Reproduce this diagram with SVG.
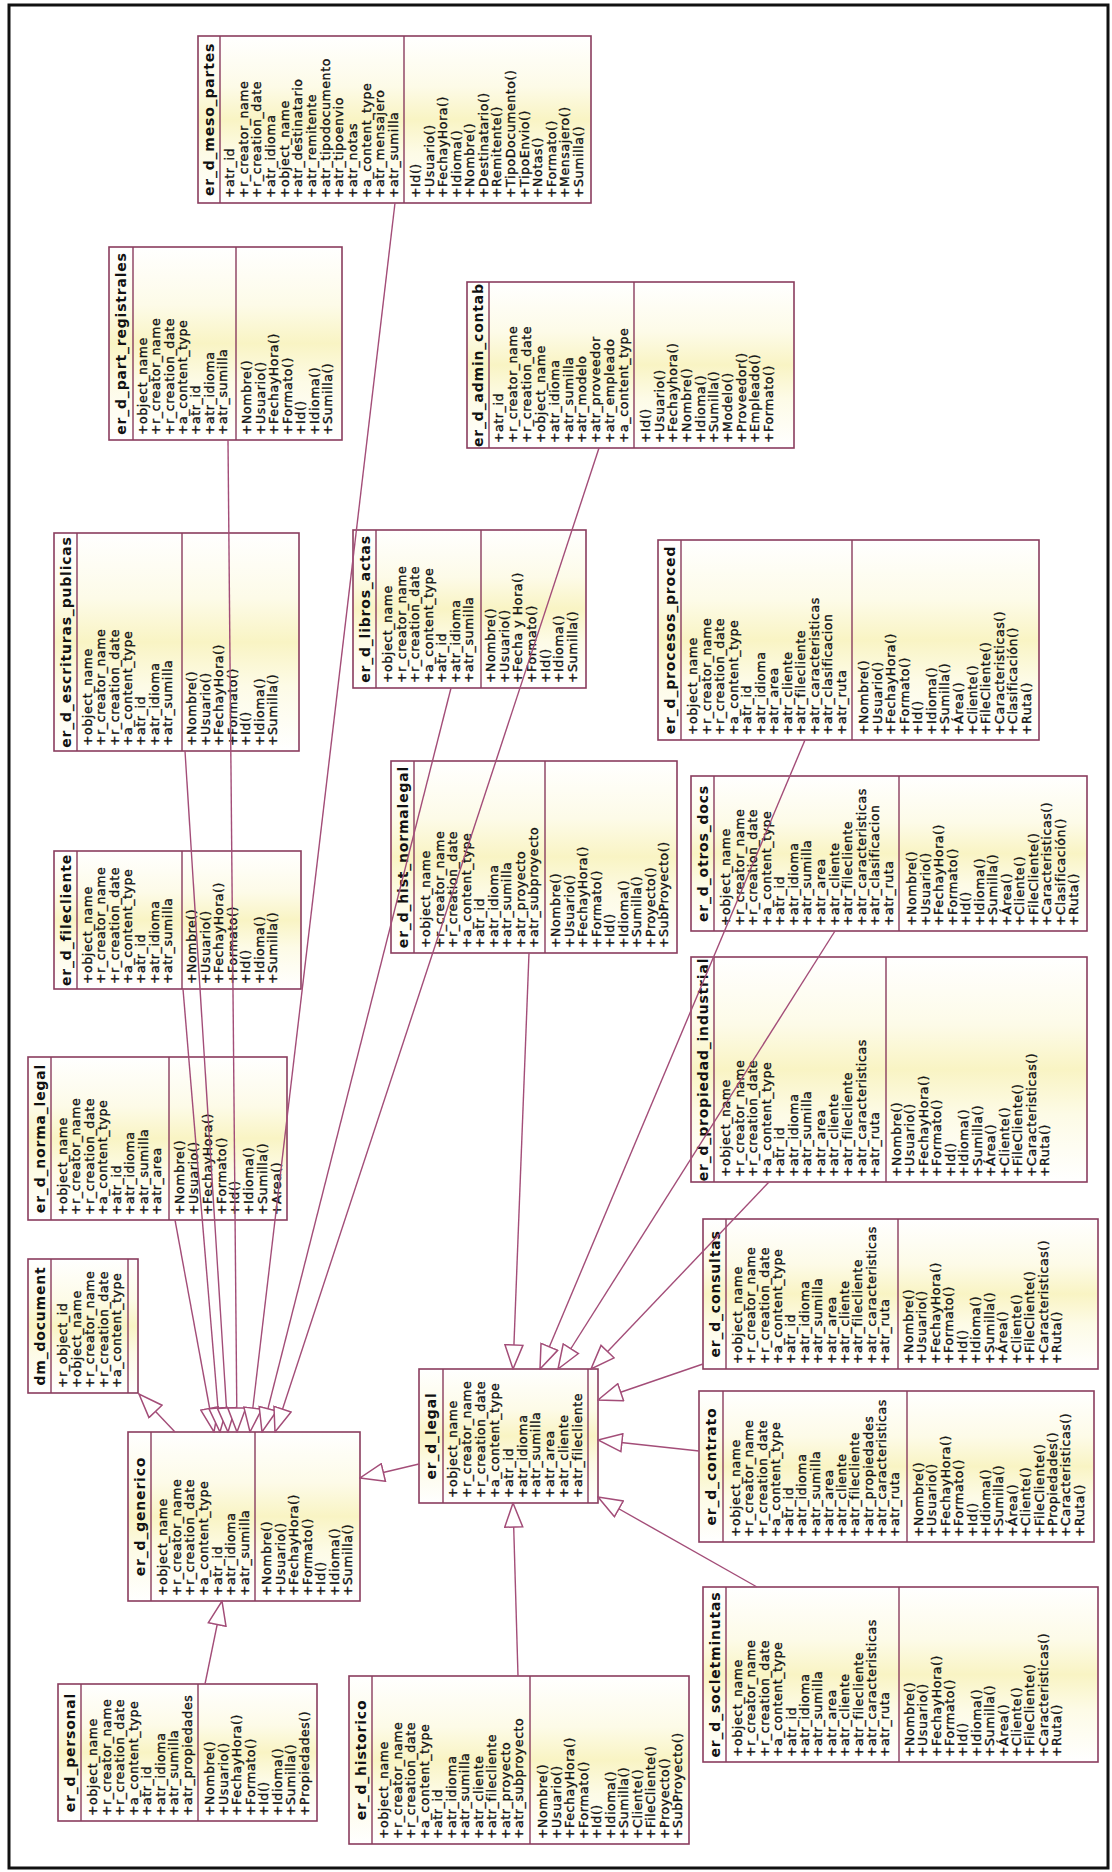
<svg xmlns="http://www.w3.org/2000/svg" width="1112" height="1872" viewBox="0 0 1112 1872">
<defs>
<linearGradient id="cls" x1="0" y1="0" x2="1" y2="0">
<stop offset="0" stop-color="#ffffff"/>
<stop offset="0.3" stop-color="#fdfbe6"/>
<stop offset="0.5" stop-color="#f9f4c4"/>
<stop offset="0.7" stop-color="#fdfbe8"/>
<stop offset="1" stop-color="#ffffff"/>
</linearGradient>
<marker id="gen" viewBox="0 0 26 20" refX="25" refY="10" markerWidth="26" markerHeight="20" markerUnits="userSpaceOnUse" orient="auto">
<path d="M1 1 L25 10 L1 19 Z" fill="#ffffff" stroke="#a34d78" stroke-width="1.5"/>
</marker>
<style>
.box{fill:url(#cls);stroke:#8a3d5e;stroke-width:1.6}
.sep{fill:none;stroke:#8a3d5e;stroke-width:1.4}
.t{font-family:"DejaVu Sans","Liberation Sans",sans-serif;font-size:12.5px;letter-spacing:0.6px;fill:#111;stroke:#111;stroke-width:0.35}
.h{font-family:"DejaVu Sans","Liberation Sans",sans-serif;font-size:14px;font-weight:bold;letter-spacing:0.8px;text-anchor:middle;fill:#111}
.edge{fill:none;stroke:#a34d78;stroke-width:1.4;marker-end:url(#gen)}
</style>
</defs>
<rect width="1112" height="1872" fill="#ffffff"/>
<rect x="9" y="5" width="1099" height="1863" fill="none" stroke="#111" stroke-width="3"/>

<!-- classes are drawn upright in local coordinates, then turned a quarter turn -->
<g id="er_d_meso_partes" transform="translate(198 203) rotate(-90)">
<rect class="box" width="167" height="393"/>
<path class="sep" d="M0 22H167M0 206H167"/>
<text class="h" x="83.5" y="16">er_d_meso_partes</text>
<text class="t" y="36"><tspan x="5">+atr_id</tspan><tspan x="5" dy="13.67">+r_creator_name</tspan><tspan x="5" dy="13.67">+r_creation_date</tspan><tspan x="5" dy="13.67">+atr_idioma</tspan><tspan x="5" dy="13.67">+object_name</tspan><tspan x="5" dy="13.67">+atr_destinatario</tspan><tspan x="5" dy="13.67">+atr_remitente</tspan><tspan x="5" dy="13.67">+atr_tipodocumento</tspan><tspan x="5" dy="13.67">+atr_tipoenvio</tspan><tspan x="5" dy="13.67">+atr_notas</tspan><tspan x="5" dy="13.67">+a_content_type</tspan><tspan x="5" dy="13.67">+atr_mensajero</tspan><tspan x="5" dy="13.67">+atr_sumilla</tspan></text>
<text class="t" y="222"><tspan x="5">+Id()</tspan><tspan x="5" dy="13.58">+Usuario()</tspan><tspan x="5" dy="13.58">+FechayHora()</tspan><tspan x="5" dy="13.58">+Idioma()</tspan><tspan x="5" dy="13.58">+Nombre()</tspan><tspan x="5" dy="13.58">+Destinatario()</tspan><tspan x="5" dy="13.58">+Remitente()</tspan><tspan x="5" dy="13.58">+TipoDocumento()</tspan><tspan x="5" dy="13.58">+TipoEnvio()</tspan><tspan x="5" dy="13.58">+Notas()</tspan><tspan x="5" dy="13.58">+Formato()</tspan><tspan x="5" dy="13.58">+Mensajero()</tspan><tspan x="5" dy="13.58">+Sumilla()</tspan></text>
</g>

<g id="er_d_part_registrales" transform="translate(109 440) rotate(-90)">
<rect class="box" width="193" height="233"/>
<path class="sep" d="M0 24H193M0 127H193"/>
<text class="h" x="96.5" y="17">er_d_part_registrales</text>
<text class="t" y="38"><tspan x="5">+object_name</tspan><tspan x="5" dy="13.33">+r_creator_name</tspan><tspan x="5" dy="13.33">+r_creation_date</tspan><tspan x="5" dy="13.33">+a_content_type</tspan><tspan x="5" dy="13.33">+atr_id</tspan><tspan x="5" dy="13.33">+atr_idioma</tspan><tspan x="5" dy="13.33">+atr_sumilla</tspan></text>
<text class="t" y="142"><tspan x="5">+Nombre()</tspan><tspan x="5" dy="13.5">+Usuario()</tspan><tspan x="5" dy="13.5">+FechayHora()</tspan><tspan x="5" dy="13.5">+Formato()</tspan><tspan x="5" dy="13.5">+Id()</tspan><tspan x="5" dy="13.5">+Idioma()</tspan><tspan x="5" dy="13.5">+Sumilla()</tspan></text>
</g>

<g id="er_d_admin_contab" transform="translate(467 448) rotate(-90)">
<rect class="box" width="166" height="327"/>
<path class="sep" d="M0 22H166M0 167H166"/>
<text class="h" x="83" y="16">er_d_admin_contab</text>
<text class="t" y="36"><tspan x="5">+atr_id</tspan><tspan x="5" dy="13.9">+r_creator_name</tspan><tspan x="5" dy="13.9">+r_creation_date</tspan><tspan x="5" dy="13.9">+object_name</tspan><tspan x="5" dy="13.9">+atr_idioma</tspan><tspan x="5" dy="13.9">+atr_sumilla</tspan><tspan x="5" dy="13.9">+atr_modelo</tspan><tspan x="5" dy="13.9">+atr_proveedor</tspan><tspan x="5" dy="13.9">+atr_empleado</tspan><tspan x="5" dy="13.9">+a_content_type</tspan></text>
<text class="t" y="183"><tspan x="5">+Id()</tspan><tspan x="5" dy="13.67">+Usuario()</tspan><tspan x="5" dy="13.67">+Fechayhora()</tspan><tspan x="5" dy="13.67">+Nombre()</tspan><tspan x="5" dy="13.67">+Idioma()</tspan><tspan x="5" dy="13.67">+Sumilla()</tspan><tspan x="5" dy="13.67">+Modelo()</tspan><tspan x="5" dy="13.67">+Proveedor()</tspan><tspan x="5" dy="13.67">+Empleado()</tspan><tspan x="5" dy="13.67">+Formato()</tspan></text>
</g>

<g id="er_d_escrituras_publicas" transform="translate(54 751) rotate(-90)">
<rect class="box" width="218" height="245"/>
<path class="sep" d="M0 23H218M0 128H218"/>
<text class="h" x="109" y="16.5">er_d_escrituras_publicas</text>
<text class="t" y="38"><tspan x="5">+object_name</tspan><tspan x="5" dy="13.33">+r_creator_name</tspan><tspan x="5" dy="13.33">+r_creation_date</tspan><tspan x="5" dy="13.33">+a_content_type</tspan><tspan x="5" dy="13.33">+atr_id</tspan><tspan x="5" dy="13.33">+atr_idioma</tspan><tspan x="5" dy="13.33">+atr_sumilla</tspan></text>
<text class="t" y="142"><tspan x="5">+Nombre()</tspan><tspan x="5" dy="13.5">+Usuario()</tspan><tspan x="5" dy="13.5">+FechayHora()</tspan><tspan x="5" dy="13.5">+Formato()</tspan><tspan x="5" dy="13.5">+Id()</tspan><tspan x="5" dy="13.5">+Idioma()</tspan><tspan x="5" dy="13.5">+Sumilla()</tspan></text>
</g>

<g id="er_d_filecliente" transform="translate(54 989) rotate(-90)">
<rect class="box" width="138" height="247"/>
<path class="sep" d="M0 23H138M0 128H138"/>
<text class="h" x="69" y="16.5">er_d_filecliente</text>
<text class="t" y="38"><tspan x="5">+object_name</tspan><tspan x="5" dy="13.33">+r_creator_name</tspan><tspan x="5" dy="13.33">+r_creation_date</tspan><tspan x="5" dy="13.33">+a_content_type</tspan><tspan x="5" dy="13.33">+atr_id</tspan><tspan x="5" dy="13.33">+atr_idioma</tspan><tspan x="5" dy="13.33">+atr_sumilla</tspan></text>
<text class="t" y="142"><tspan x="5">+Nombre()</tspan><tspan x="5" dy="13.5">+Usuario()</tspan><tspan x="5" dy="13.5">+FechayHora()</tspan><tspan x="5" dy="13.5">+Formato()</tspan><tspan x="5" dy="13.5">+Id()</tspan><tspan x="5" dy="13.5">+Idioma()</tspan><tspan x="5" dy="13.5">+Sumilla()</tspan></text>
</g>

<g id="er_d_libros_actas" transform="translate(353 688) rotate(-90)">
<rect class="box" width="158" height="233"/>
<path class="sep" d="M0 23H158M0 128H158"/>
<text class="h" x="79" y="16.5">er_d_libros_actas</text>
<text class="t" y="39"><tspan x="5">+object_name</tspan><tspan x="5" dy="13.5">+r_creator_name</tspan><tspan x="5" dy="13.5">+r_creation_date</tspan><tspan x="5" dy="13.5">+a_content_type</tspan><tspan x="5" dy="13.5">+atr_id</tspan><tspan x="5" dy="13.5">+atr_idioma</tspan><tspan x="5" dy="13.5">+atr_sumilla</tspan></text>
<text class="t" y="142"><tspan x="5">+Nombre()</tspan><tspan x="5" dy="13.67">+Usuario()</tspan><tspan x="5" dy="13.67">+Fecha y Hora()</tspan><tspan x="5" dy="13.67">+Formato()</tspan><tspan x="5" dy="13.67">+Id()</tspan><tspan x="5" dy="13.67">+Idioma()</tspan><tspan x="5" dy="13.67">+Sumilla()</tspan></text>
</g>

<g id="er_d_procesos_proced" transform="translate(658 740) rotate(-90)">
<rect class="box" width="200" height="381"/>
<path class="sep" d="M0 23H200M0 194H200"/>
<text class="h" x="100" y="16.5">er_d_procesos_proced</text>
<text class="t" y="39"><tspan x="5">+object_name</tspan><tspan x="5" dy="13.5">+r_creator_name</tspan><tspan x="5" dy="13.5">+r_creation_date</tspan><tspan x="5" dy="13.5">+a_content_type</tspan><tspan x="5" dy="13.5">+atr_id</tspan><tspan x="5" dy="13.5">+atr_idioma</tspan><tspan x="5" dy="13.5">+atr_area</tspan><tspan x="5" dy="13.5">+atr_cliente</tspan><tspan x="5" dy="13.5">+atr_filecliente</tspan><tspan x="5" dy="13.5">+atr_caracteristicas</tspan><tspan x="5" dy="13.5">+atr_clasificacion</tspan><tspan x="5" dy="13.5">+atr_ruta</tspan></text>
<text class="t" y="210"><tspan x="5">+Nombre()</tspan><tspan x="5" dy="13.58">+Usuario()</tspan><tspan x="5" dy="13.58">+FechayHora()</tspan><tspan x="5" dy="13.58">+Formato()</tspan><tspan x="5" dy="13.58">+Id()</tspan><tspan x="5" dy="13.58">+Idioma()</tspan><tspan x="5" dy="13.58">+Sumilla()</tspan><tspan x="5" dy="13.58">+Área()</tspan><tspan x="5" dy="13.58">+Cliente()</tspan><tspan x="5" dy="13.58">+FileCliente()</tspan><tspan x="5" dy="13.58">+Caracteristicas()</tspan><tspan x="5" dy="13.58">+Clasificación()</tspan><tspan x="5" dy="13.58">+Ruta()</tspan></text>
</g>

<g id="er_d_otros_docs" transform="translate(691 931) rotate(-90)">
<rect class="box" width="155" height="396"/>
<path class="sep" d="M0 23H155M0 208H155"/>
<text class="h" x="77.5" y="16.5">er_d_otros_docs</text>
<text class="t" y="39"><tspan x="5">+object_name</tspan><tspan x="5" dy="13.58">+r_creator_name</tspan><tspan x="5" dy="13.58">+r_creation_date</tspan><tspan x="5" dy="13.58">+a_content_type</tspan><tspan x="5" dy="13.58">+atr_id</tspan><tspan x="5" dy="13.58">+atr_idioma</tspan><tspan x="5" dy="13.58">+atr_sumilla</tspan><tspan x="5" dy="13.58">+atr_area</tspan><tspan x="5" dy="13.58">+atr_cliente</tspan><tspan x="5" dy="13.58">+atr_filecliente</tspan><tspan x="5" dy="13.58">+atr_caracteristicas</tspan><tspan x="5" dy="13.58">+atr_clasificacion</tspan><tspan x="5" dy="13.58">+atr_ruta</tspan></text>
<text class="t" y="225"><tspan x="5">+Nombre()</tspan><tspan x="5" dy="13.5">+Usuario()</tspan><tspan x="5" dy="13.5">+FechayHora()</tspan><tspan x="5" dy="13.5">+Formato()</tspan><tspan x="5" dy="13.5">+Id()</tspan><tspan x="5" dy="13.5">+Idioma()</tspan><tspan x="5" dy="13.5">+Sumilla()</tspan><tspan x="5" dy="13.5">+Área()</tspan><tspan x="5" dy="13.5">+Cliente()</tspan><tspan x="5" dy="13.5">+FileCliente()</tspan><tspan x="5" dy="13.5">+Caracteristicas()</tspan><tspan x="5" dy="13.5">+Clasificación()</tspan><tspan x="5" dy="13.5">+Ruta()</tspan></text>
</g>

<g id="er_d_hist_normalegal" transform="translate(391 953) rotate(-90)">
<rect class="box" width="192" height="286"/>
<path class="sep" d="M0 23H192M0 154H192"/>
<text class="h" x="96" y="16.5">er_d_hist_normalegal</text>
<text class="t" y="39"><tspan x="5">+object_name</tspan><tspan x="5" dy="13.5">+r_creator_name</tspan><tspan x="5" dy="13.5">+r_creation_date</tspan><tspan x="5" dy="13.5">+a_content_type</tspan><tspan x="5" dy="13.5">+atr_id</tspan><tspan x="5" dy="13.5">+atr_idioma</tspan><tspan x="5" dy="13.5">+atr_sumilla</tspan><tspan x="5" dy="13.5">+atr_proyecto</tspan><tspan x="5" dy="13.5">+atr_subproyecto</tspan></text>
<text class="t" y="169"><tspan x="5">+Nombre()</tspan><tspan x="5" dy="13.5">+Usuario()</tspan><tspan x="5" dy="13.5">+FechayHora()</tspan><tspan x="5" dy="13.5">+Formato()</tspan><tspan x="5" dy="13.5">+Id()</tspan><tspan x="5" dy="13.5">+Idioma()</tspan><tspan x="5" dy="13.5">+Sumilla()</tspan><tspan x="5" dy="13.5">+Proyecto()</tspan><tspan x="5" dy="13.5">+SubProyecto()</tspan></text>
</g>

<g id="er_d_propiedad_industrial" transform="translate(691 1182) rotate(-90)">
<rect class="box" width="225" height="396"/>
<path class="sep" d="M0 23H225M0 195H225"/>
<text class="h" x="112.5" y="16.5">er_d_propiedad_industrial</text>
<text class="t" y="39"><tspan x="5">+object_name</tspan><tspan x="5" dy="13.55">+r_creator_name</tspan><tspan x="5" dy="13.55">+r_creation_date</tspan><tspan x="5" dy="13.55">+a_content_type</tspan><tspan x="5" dy="13.55">+atr_id</tspan><tspan x="5" dy="13.55">+atr_idioma</tspan><tspan x="5" dy="13.55">+atr_sumilla</tspan><tspan x="5" dy="13.55">+atr_area</tspan><tspan x="5" dy="13.55">+atr_cliente</tspan><tspan x="5" dy="13.55">+atr_filecliente</tspan><tspan x="5" dy="13.55">+atr_caracteristicas</tspan><tspan x="5" dy="13.55">+atr_ruta</tspan></text>
<text class="t" y="210"><tspan x="5">+Nombre()</tspan><tspan x="5" dy="13.45">+Usuario()</tspan><tspan x="5" dy="13.45">+FechayHora()</tspan><tspan x="5" dy="13.45">+Formato()</tspan><tspan x="5" dy="13.45">+Id()</tspan><tspan x="5" dy="13.45">+Idioma()</tspan><tspan x="5" dy="13.45">+Sumilla()</tspan><tspan x="5" dy="13.45">+Área()</tspan><tspan x="5" dy="13.45">+Cliente()</tspan><tspan x="5" dy="13.45">+FileCliente()</tspan><tspan x="5" dy="13.45">+Caracteristicas()</tspan><tspan x="5" dy="13.45">+Ruta()</tspan></text>
</g>

<g id="er_d_consultas" transform="translate(703 1369) rotate(-90)">
<rect class="box" width="150" height="395"/>
<path class="sep" d="M0 23H150M0 195H150"/>
<text class="h" x="75" y="16.5">er_d_consultas</text>
<text class="t" y="39"><tspan x="5">+object_name</tspan><tspan x="5" dy="13.36">+r_creator_name</tspan><tspan x="5" dy="13.36">+r_creation_date</tspan><tspan x="5" dy="13.36">+a_content_type</tspan><tspan x="5" dy="13.36">+atr_id</tspan><tspan x="5" dy="13.36">+atr_idioma</tspan><tspan x="5" dy="13.36">+atr_sumilla</tspan><tspan x="5" dy="13.36">+atr_area</tspan><tspan x="5" dy="13.36">+atr_cliente</tspan><tspan x="5" dy="13.36">+atr_filecliente</tspan><tspan x="5" dy="13.36">+atr_caracteristicas</tspan><tspan x="5" dy="13.36">+atr_ruta</tspan></text>
<text class="t" y="210"><tspan x="5">+Nombre()</tspan><tspan x="5" dy="13.45">+Usuario()</tspan><tspan x="5" dy="13.45">+FechayHora()</tspan><tspan x="5" dy="13.45">+Formato()</tspan><tspan x="5" dy="13.45">+Id()</tspan><tspan x="5" dy="13.45">+Idioma()</tspan><tspan x="5" dy="13.45">+Sumilla()</tspan><tspan x="5" dy="13.45">+Área()</tspan><tspan x="5" dy="13.45">+Cliente()</tspan><tspan x="5" dy="13.45">+FileCliente()</tspan><tspan x="5" dy="13.45">+Caracteristicas()</tspan><tspan x="5" dy="13.45">+Ruta()</tspan></text>
</g>

<g id="er_d_contrato" transform="translate(699 1542) rotate(-90)">
<rect class="box" width="151" height="395"/>
<path class="sep" d="M0 24H151M0 208H151"/>
<text class="h" x="75.5" y="17">er_d_contrato</text>
<text class="t" y="41"><tspan x="5">+object_name</tspan><tspan x="5" dy="13.25">+r_creator_name</tspan><tspan x="5" dy="13.25">+r_creation_date</tspan><tspan x="5" dy="13.25">+a_content_type</tspan><tspan x="5" dy="13.25">+atr_id</tspan><tspan x="5" dy="13.25">+atr_idioma</tspan><tspan x="5" dy="13.25">+atr_sumilla</tspan><tspan x="5" dy="13.25">+atr_area</tspan><tspan x="5" dy="13.25">+atr_cliente</tspan><tspan x="5" dy="13.25">+atr_filecliente</tspan><tspan x="5" dy="13.25">+atr_propiedades</tspan><tspan x="5" dy="13.25">+atr_caracteristicas</tspan><tspan x="5" dy="13.25">+atr_ruta</tspan></text>
<text class="t" y="224"><tspan x="5">+Nombre()</tspan><tspan x="5" dy="13.4">+Usuario()</tspan><tspan x="5" dy="13.4">+FechayHora()</tspan><tspan x="5" dy="13.4">+Formato()</tspan><tspan x="5" dy="13.4">+Id()</tspan><tspan x="5" dy="13.4">+Idioma()</tspan><tspan x="5" dy="13.4">+Sumilla()</tspan><tspan x="5" dy="13.4">+Área()</tspan><tspan x="5" dy="13.4">+Cliente()</tspan><tspan x="5" dy="13.4">+FileCliente()</tspan><tspan x="5" dy="13.4">+Propiedades()</tspan><tspan x="5" dy="13.4">+Caracteristicas()</tspan><tspan x="5" dy="13.4">+Ruta()</tspan></text>
</g>

<g id="er_d_socletminutas" transform="translate(703 1762) rotate(-90)">
<rect class="box" width="175" height="395"/>
<path class="sep" d="M0 23H175M0 196H175"/>
<text class="h" x="87.5" y="16.5">er_d_socletminutas</text>
<text class="t" y="39"><tspan x="5">+object_name</tspan><tspan x="5" dy="13.4">+r_creator_name</tspan><tspan x="5" dy="13.4">+r_creation_date</tspan><tspan x="5" dy="13.4">+a_content_type</tspan><tspan x="5" dy="13.4">+atr_id</tspan><tspan x="5" dy="13.4">+atr_idioma</tspan><tspan x="5" dy="13.4">+atr_sumilla</tspan><tspan x="5" dy="13.4">+atr_area</tspan><tspan x="5" dy="13.4">+atr_cliente</tspan><tspan x="5" dy="13.4">+atr_filecliente</tspan><tspan x="5" dy="13.4">+atr_caracteristicas</tspan><tspan x="5" dy="13.4">+atr_ruta</tspan></text>
<text class="t" y="211"><tspan x="5">+Nombre()</tspan><tspan x="5" dy="13.36">+Usuario()</tspan><tspan x="5" dy="13.36">+FechayHora()</tspan><tspan x="5" dy="13.36">+Formato()</tspan><tspan x="5" dy="13.36">+Id()</tspan><tspan x="5" dy="13.36">+Idioma()</tspan><tspan x="5" dy="13.36">+Sumilla()</tspan><tspan x="5" dy="13.36">+Área()</tspan><tspan x="5" dy="13.36">+Cliente()</tspan><tspan x="5" dy="13.36">+FileCliente()</tspan><tspan x="5" dy="13.36">+Caracteristicas()</tspan><tspan x="5" dy="13.36">+Ruta()</tspan></text>
</g>

<g id="er_d_legal" transform="translate(419 1503) rotate(-90)">
<rect class="box" width="134" height="179"/>
<path class="sep" d="M0 24H134M0 169H134"/>
<text class="h" x="67" y="17">er_d_legal</text>
<text class="t" y="38"><tspan x="5">+object_name</tspan><tspan x="5" dy="13.9">+r_creator_name</tspan><tspan x="5" dy="13.9">+r_creation_date</tspan><tspan x="5" dy="13.9">+a_content_type</tspan><tspan x="5" dy="13.9">+atr_id</tspan><tspan x="5" dy="13.9">+atr_idioma</tspan><tspan x="5" dy="13.9">+atr_sumilla</tspan><tspan x="5" dy="13.9">+atr_area</tspan><tspan x="5" dy="13.9">+atr_cliente</tspan><tspan x="5" dy="13.9">+atr_filecliente</tspan></text>
</g>

<g id="er_d_generico" transform="translate(128 1601) rotate(-90)">
<rect class="box" width="169" height="232"/>
<path class="sep" d="M0 23H169M0 127H169"/>
<text class="h" x="84.5" y="16.5">er_d_generico</text>
<text class="t" y="39"><tspan x="5">+object_name</tspan><tspan x="5" dy="13.67">+r_creator_name</tspan><tspan x="5" dy="13.67">+r_creation_date</tspan><tspan x="5" dy="13.67">+a_content_type</tspan><tspan x="5" dy="13.67">+atr_id</tspan><tspan x="5" dy="13.67">+atr_idioma</tspan><tspan x="5" dy="13.67">+atr_sumilla</tspan></text>
<text class="t" y="143"><tspan x="5">+Nombre()</tspan><tspan x="5" dy="13.5">+Usuario()</tspan><tspan x="5" dy="13.5">+FechayHora()</tspan><tspan x="5" dy="13.5">+Formato()</tspan><tspan x="5" dy="13.5">+Id()</tspan><tspan x="5" dy="13.5">+Idioma()</tspan><tspan x="5" dy="13.5">+Sumilla()</tspan></text>
</g>

<g id="er_d_personal" transform="translate(58 1821) rotate(-90)">
<rect class="box" width="137" height="259"/>
<path class="sep" d="M0 23H137M0 140H137"/>
<text class="h" x="68.5" y="16.5">er_d_personal</text>
<text class="t" y="39"><tspan x="5">+object_name</tspan><tspan x="5" dy="13.57">+r_creator_name</tspan><tspan x="5" dy="13.57">+r_creation_date</tspan><tspan x="5" dy="13.57">+a_content_type</tspan><tspan x="5" dy="13.57">+atr_id</tspan><tspan x="5" dy="13.57">+atr_idioma</tspan><tspan x="5" dy="13.57">+atr_sumilla</tspan><tspan x="5" dy="13.57">+atr_propiedades</tspan></text>
<text class="t" y="156"><tspan x="5">+Nombre()</tspan><tspan x="5" dy="13.57">+Usuario()</tspan><tspan x="5" dy="13.57">+FechayHora()</tspan><tspan x="5" dy="13.57">+Formato()</tspan><tspan x="5" dy="13.57">+Id()</tspan><tspan x="5" dy="13.57">+Idioma()</tspan><tspan x="5" dy="13.57">+Sumilla()</tspan><tspan x="5" dy="13.57">+Propiedades()</tspan></text>
</g>

<g id="er_d_historico" transform="translate(349 1844) rotate(-90)">
<rect class="box" width="168" height="340"/>
<path class="sep" d="M0 23H168M0 181H168"/>
<text class="h" x="84" y="16.5">er_d_historico</text>
<text class="t" y="39"><tspan x="5">+object_name</tspan><tspan x="5" dy="13.5">+r_creator_name</tspan><tspan x="5" dy="13.5">+r_creation_date</tspan><tspan x="5" dy="13.5">+a_content_type</tspan><tspan x="5" dy="13.5">+atr_id</tspan><tspan x="5" dy="13.5">+atr_idioma</tspan><tspan x="5" dy="13.5">+atr_sumilla</tspan><tspan x="5" dy="13.5">+atr_cliente</tspan><tspan x="5" dy="13.5">+atr_filecliente</tspan><tspan x="5" dy="13.5">+atr_proyecto</tspan><tspan x="5" dy="13.5">+atr_subproyecto</tspan></text>
<text class="t" y="198"><tspan x="5">+Nombre()</tspan><tspan x="5" dy="13.5">+Usuario()</tspan><tspan x="5" dy="13.5">+FechayHora()</tspan><tspan x="5" dy="13.5">+Formato()</tspan><tspan x="5" dy="13.5">+Id()</tspan><tspan x="5" dy="13.5">+Idioma()</tspan><tspan x="5" dy="13.5">+Sumilla()</tspan><tspan x="5" dy="13.5">+Cliente()</tspan><tspan x="5" dy="13.5">+FileCliente()</tspan><tspan x="5" dy="13.5">+Proyecto()</tspan><tspan x="5" dy="13.5">+SubProyecto()</tspan></text>
</g>

<g id="dm_document" transform="translate(28 1393) rotate(-90)">
<rect class="box" width="134" height="110"/>
<path class="sep" d="M0 23H134M0 100H134"/>
<text class="h" x="67" y="16.5">dm_document</text>
<text class="t" y="39"><tspan x="5">+r_object_id</tspan><tspan x="5" dy="13.5">+object_name</tspan><tspan x="5" dy="13.5">+r_creator_name</tspan><tspan x="5" dy="13.5">+r_creation_date</tspan><tspan x="5" dy="13.5">+a_content_type</tspan></text>
</g>

<g id="er_d_norma_legal" transform="translate(28 1220) rotate(-90)">
<rect class="box" width="163" height="259"/>
<path class="sep" d="M0 23H163M0 141H163"/>
<text class="h" x="81.5" y="16.5">er_d_norma_legal</text>
<text class="t" y="39"><tspan x="5">+object_name</tspan><tspan x="5" dy="13.43">+r_creator_name</tspan><tspan x="5" dy="13.43">+r_creation_date</tspan><tspan x="5" dy="13.43">+a_content_type</tspan><tspan x="5" dy="13.43">+atr_id</tspan><tspan x="5" dy="13.43">+atr_idioma</tspan><tspan x="5" dy="13.43">+atr_sumilla</tspan><tspan x="5" dy="13.43">+atr_area</tspan></text>
<text class="t" y="156"><tspan x="5">+Nombre()</tspan><tspan x="5" dy="13.86">+Usuario()</tspan><tspan x="5" dy="13.86">+FechayHora()</tspan><tspan x="5" dy="13.86">+Formato()</tspan><tspan x="5" dy="13.86">+Id()</tspan><tspan x="5" dy="13.86">+Idioma()</tspan><tspan x="5" dy="13.86">+Sumilla()</tspan><tspan x="5" dy="13.86">+Area()</tspan></text>
</g>

<!-- generalization connectors, hollow head at the parent -->
<g id="connectors">
<line class="edge" x1="175" y1="1432" x2="139" y2="1394"/>
<line class="edge" x1="175" y1="1220" x2="214" y2="1432"/>
<line class="edge" x1="183" y1="989" x2="220" y2="1432"/>
<line class="edge" x1="185" y1="751" x2="228" y2="1432"/>
<line class="edge" x1="228" y1="440" x2="237" y2="1432"/>
<line class="edge" x1="395" y1="203" x2="250" y2="1432"/>
<line class="edge" x1="451" y1="688" x2="262" y2="1432"/>
<line class="edge" x1="599" y1="448" x2="275" y2="1432"/>
<line class="edge" x1="419" y1="1464" x2="360" y2="1478"/>
<line class="edge" x1="205" y1="1684" x2="222" y2="1601"/>
<line class="edge" x1="529" y1="953" x2="513" y2="1369"/>
<line class="edge" x1="805" y1="740" x2="540" y2="1369"/>
<line class="edge" x1="835" y1="931" x2="558" y2="1369"/>
<line class="edge" x1="769" y1="1182" x2="591" y2="1369"/>
<line class="edge" x1="703" y1="1364" x2="598" y2="1400"/>
<line class="edge" x1="699" y1="1451" x2="598" y2="1440"/>
<line class="edge" x1="757" y1="1587" x2="598" y2="1497"/>
<line class="edge" x1="518" y1="1676" x2="513" y2="1503"/>
</g>
</svg>
